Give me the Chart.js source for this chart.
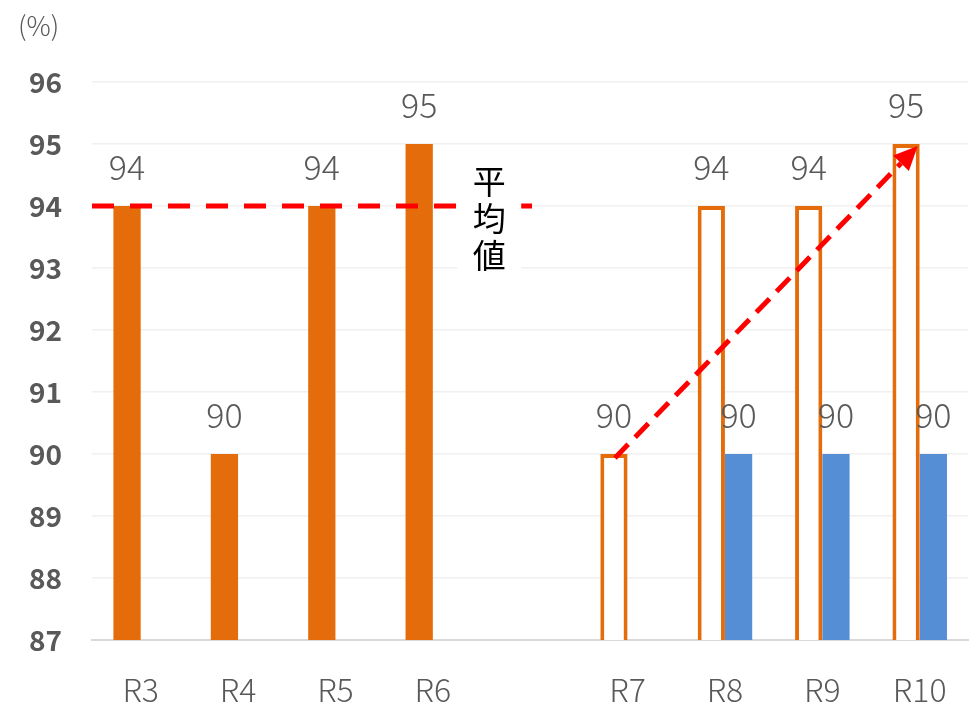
<!DOCTYPE html>
<html>
<head>
<meta charset="utf-8">
<script src="https://cdn.jsdelivr.net/npm/chart.js@4.4.0/dist/chart.umd.min.js"></script>
<style>
  html, body { margin: 0; padding: 0; background: #fff; }
  #wrap { position: relative; width: 978px; height: 707px; }
</style>
</head>
<body>
<div id="wrap"><canvas id="c" width="978" height="707"></canvas></div>
<script>
// データ
const labels = ['R3', 'R4', 'R5', 'R6', '', 'R7', 'R8', 'R9', 'R10'];
const actualValues = [94, 90, 94, 95, null, 90, 94, 94, 95];
const targetValues = [null, null, null, null, null, null, 90, 90, 90];
const outlined = [false, false, false, false, false, true, true, true, true];
const averageValue = 94;
const yTicks = [87, 88, 89, 90, 91, 92, 93, 94, 95, 96];

const ORANGE = '#E46C0A';
const BLUE = '#558ED5';
const GRAY = '#595959';
const FONT = '"Noto Sans CJK JP", "Noto Sans", sans-serif';

// 平均線・矢印・ラベル
const extras = {
  id: 'extras',
  afterDatasetsDraw(chart) {
    const ctx = chart.ctx;
    const x = chart.scales.x;
    const y = chart.scales.y;
    const area = chart.chartArea;
    const m0 = chart.getDatasetMeta(0);
    const m1 = chart.getDatasetMeta(1);

    ctx.save();

    // 平均値の点線 (R3〜R6)
    const ay = y.getPixelForValue(averageValue);
    const gapX = x.getPixelForValue(4);
    ctx.strokeStyle = '#FF0000';
    ctx.lineWidth = 5;
    ctx.setLineDash([22, 16]);
    ctx.beginPath();
    ctx.moveTo(area.left, ay);
    ctx.lineTo(gapX + 5, ay);
    ctx.stroke();

    // 「平均値」縦書き
    const tx = gapX - 41;
    ctx.setLineDash([]);
    ctx.fillStyle = '#fff';
    ctx.fillRect(tx - 32, 160, 64, 112);
    ctx.fillStyle = '#000';
    ctx.font = '33px ' + FONT;
    ctx.textAlign = 'center';
    ctx.textBaseline = 'middle';
    ['平', '均', '値'].forEach((ch, i) => ctx.fillText(ch, tx, 181 + i * 37));

    // 値ラベル
    ctx.fillStyle = GRAY;
    ctx.font = '300 34px ' + FONT;
    [[m0, actualValues], [m1, targetValues]].forEach(([meta, vals]) => {
      meta.data.forEach((bar, i) => {
        if (vals[i] == null) return;
        ctx.fillText(String(vals[i]), bar.x, bar.y - 39);
      });
    });

    // 矢印 (R7 → R10)
    const p0 = m0.data[5];
    const p1 = m0.data[8];
    const sx = p0.x + 1, sy = p0.y + 4;
    const ex = p1.x + p1.width / 2 - 2, ey = p1.y + 2;
    const ang = Math.atan2(ey - sy, ex - sx);
    const head = 24;
    const bx = ex - head * Math.cos(ang);
    const by = ey - head * Math.sin(ang);
    ctx.strokeStyle = '#FF0000';
    ctx.lineWidth = 5;
    ctx.setLineDash([19, 10]);
    ctx.beginPath();
    ctx.moveTo(sx, sy);
    ctx.lineTo(bx, by);
    ctx.stroke();
    ctx.setLineDash([]);
    ctx.fillStyle = '#FF0000';
    ctx.beginPath();
    ctx.moveTo(ex, ey);
    ctx.lineTo(bx + 11 * Math.sin(ang), by - 11 * Math.cos(ang));
    ctx.lineTo(bx - 11 * Math.sin(ang), by + 11 * Math.cos(ang));
    ctx.closePath();
    ctx.fill();

    // 単位
    ctx.fillStyle = GRAY;
    ctx.font = '300 27px ' + FONT;
    ctx.textAlign = 'left';
    ctx.fillText('(%)', 18, 26);

    ctx.restore();
  }
};

new Chart(document.getElementById('c'), {
  type: 'bar',
  data: {
    labels: labels,
    datasets: [
      {
        label: '実績',
        data: actualValues,
        backgroundColor: outlined.map(o => o ? '#FFFFFF' : ORANGE),
        borderColor: ORANGE,
        borderWidth: outlined.map(o => o ? 4 : 0),
        borderSkipped: false
      },
      {
        label: '目標',
        data: targetValues,
        backgroundColor: BLUE,
        borderWidth: 0
      }
    ]
  },
  options: {
    responsive: false,
    animation: false,
    categoryPercentage: 0.56,
    barPercentage: 1,
    layout: { padding: { top: 82, right: 8, left: 0, bottom: 0 } },
    plugins: {
      legend: { display: false },
      tooltip: { enabled: false }
    },
    scales: {
      x: {
        grid: { display: false, drawTicks: false },
        border: { color: '#D9D9D9', width: 2 },
        ticks: { color: GRAY, font: { family: FONT, size: 32, weight: '300' }, padding: 31 },
        afterFit(s) { s.height = 67; }
      },
      y: {
        min: yTicks[0],
        max: yTicks[yTicks.length - 1],
        afterBuildTicks(s) { s.ticks = yTicks.map(v => ({ value: v })); },
        grid: { color: '#F0F0F0', lineWidth: 1.5, drawTicks: false },
        border: { display: false },
        ticks: { color: GRAY, font: { family: FONT, size: 28, weight: 'bold' }, padding: 30 },
        afterFit(s) { s.width = 92; }
      }
    }
  },
  plugins: [extras]
});
</script>
</body>
</html>
